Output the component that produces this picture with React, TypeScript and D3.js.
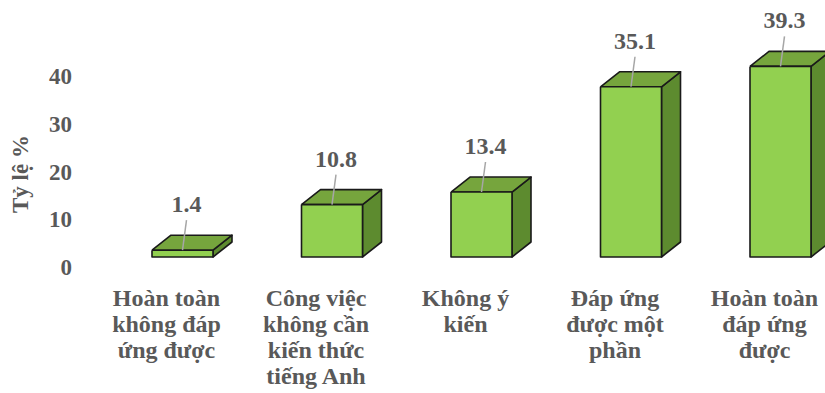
import React from "react";
import * as d3 from "d3";

// Survey categories and their shares (%)
const categories: string[][] = [
  ["Hoàn toàn", "không đáp", "ứng được"],
  ["Công việc", "không cần", "kiến thức", "tiếng Anh"],
  ["Không ý", "kiến"],
  ["Đáp ứng", "được một", "phần"],
  ["Hoàn toàn", "đáp ứng", "được"],
];
const values: number[] = [1.4, 10.8, 13.4, 35.1, 39.3];
const yTicks: number[] = [0, 10, 20, 30, 40];
const yAxisTitle = "Tỷ lệ %";

const W = 825;
const H = 393;
const FONT = "'Liberation Serif', 'Times New Roman', serif";
const TEXT = "#595959";

const FRONT = "#92D050";
const TOP = "#76A53D";
const SIDE = "#5D8B2F";

export default function App() {
  const keys = categories.map((_, i) => String(i));
  const x = d3.scalePoint<string>().domain(keys).range([182.5, 780.5]);
  // front faces of the bars
  const y = d3.scaleLinear().domain([0, 40]).range([257, 63]);
  // axis labels sit on the floor of the 3D plot
  const yAxis = d3.scaleLinear().domain([0, 40]).range([267, 76]);

  const barW = 61;
  const dx = 19;
  const dy = 15;

  const poly = (pts: [number, number][]) =>
    d3.line()(pts.concat([pts[0]])) as string;

  return (
    <svg
      width={W}
      height={H}
      style={{ position: "absolute", left: 0, top: 0, background: "#fff" }}
      fontFamily={FONT}
    >
      {/* y axis tick labels */}
      {yTicks.map((t) => (
        <text
          key={t}
          x={72}
          y={yAxis(t) + 8}
          textAnchor="end"
          fontSize={23}
          fontWeight="bold"
          fill={TEXT}
        >
          {t}
        </text>
      ))}
      <text
        transform={`translate(28,174) rotate(-90)`}
        textAnchor="middle"
        fontSize={23}
        fontWeight="bold"
        fill={TEXT}
      >
        {yAxisTitle}
      </text>

      {/* 3D bars */}
      {values.map((v, i) => {
        const cx = x(String(i)) as number;
        const x0 = cx - barW / 2;
        const x1 = cx + barW / 2;
        const yb = y(0);
        const yt = y(v);
        return (
          <g
            key={i}
            stroke="#1a1a1a"
            strokeWidth={1.6}
            strokeLinejoin="round"
          >
            <path
              d={poly([
                [x1, yt],
                [x1 + dx, yt - dy],
                [x1 + dx, yb - dy],
                [x1, yb],
              ])}
              fill={SIDE}
            />
            <path
              d={poly([
                [x0, yt],
                [x0 + dx, yt - dy],
                [x1 + dx, yt - dy],
                [x1, yt],
              ])}
              fill={TOP}
            />
            <path
              d={poly([
                [x0, yt],
                [x1, yt],
                [x1, yb],
                [x0, yb],
              ])}
              fill={FRONT}
            />
          </g>
        );
      })}

      {/* value labels with leader lines */}
      {values.map((v, i) => {
        const cx = x(String(i)) as number;
        const yt = y(v);
        const lx = cx + 4;
        const base = yt - 38;
        return (
          <g key={i}>
            <line
              x1={lx}
              y1={base + 8}
              x2={cx}
              y2={yt}
              stroke="#a6a6a6"
              strokeWidth={1.5}
            />
            <text
              x={lx}
              y={base}
              textAnchor="middle"
              fontSize={24}
              fontWeight="bold"
              fill={TEXT}
            >
              {v.toFixed(1)}
            </text>
          </g>
        );
      })}

      {/* category labels */}
      {categories.map((lines, i) => {
        const cx = (x(String(i)) as number) - 16;
        return (
          <text
            key={i}
            x={cx}
            y={306}
            textAnchor="middle"
            fontSize={24}
            fontWeight="bold"
            fill={TEXT}
          >
            {lines.map((l, j) => (
              <tspan key={j} x={cx} dy={j === 0 ? 0 : 26}>
                {l}
              </tspan>
            ))}
          </text>
        );
      })}
    </svg>
  );
}
